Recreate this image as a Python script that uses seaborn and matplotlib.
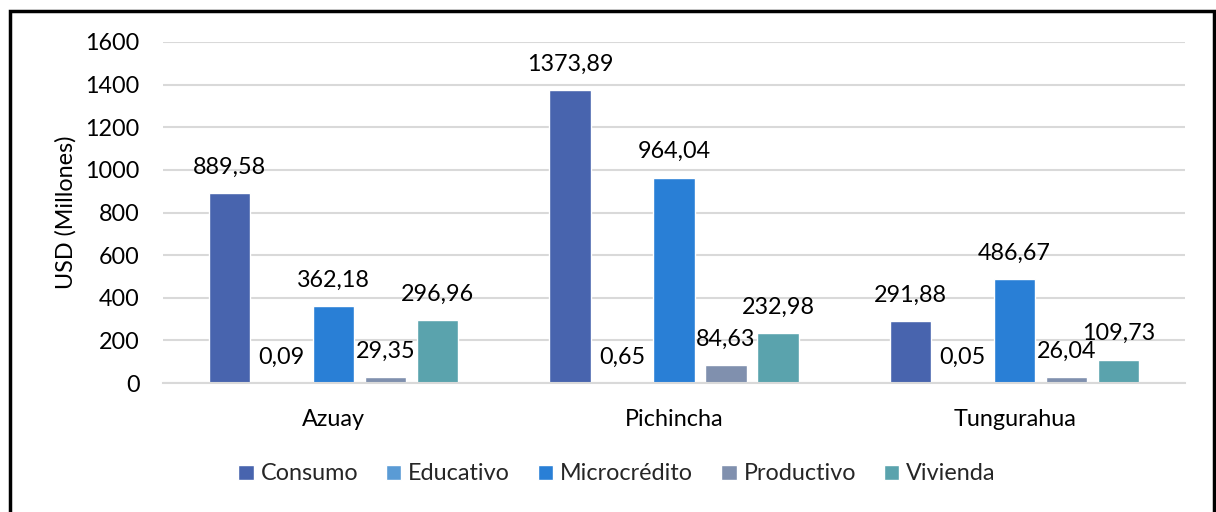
import matplotlib
matplotlib.use("Agg")
import matplotlib.pyplot as plt
from matplotlib.patches import Rectangle
import seaborn as sns
import pandas as pd

# Loan portfolio by province and credit type (USD millions)
provincias = ["Azuay", "Pichincha", "Tungurahua"]
tipos = ["Consumo", "Educativo", "Microcrédito", "Productivo", "Vivienda"]
consumo = [889.58, 1373.89, 291.88]
educativo = [0.09, 0.65, 0.05]
microcredito = [362.18, 964.04, 486.67]
productivo = [29.35, 84.63, 26.04]
vivienda = [296.96, 232.98, 109.73]
y_ticks = [0, 200, 400, 600, 800, 1000, 1200, 1400, 1600]

colores = ["#4864AE", "#5A9BD5", "#297FD6", "#8090AE", "#5AA3AD"]

series = [consumo, educativo, microcredito, productivo, vivienda]
rows = []
for tipo, valores in zip(tipos, series):
    for prov, v in zip(provincias, valores):
        rows.append({"Provincia": prov, "Tipo": tipo, "Valor": v})
df = pd.DataFrame(rows)

sns.set_theme(style="white")
plt.rcParams["font.family"] = ["Lato", "DejaVu Sans"]
FS = 16.8

fig = plt.figure(figsize=(12.16, 5.12), dpi=100)
ax = fig.add_axes([163 / 1216, 1 - 383 / 512, 1022 / 1216, 341 / 512])

sns.barplot(data=df, x="Provincia", y="Valor", hue="Tipo",
            order=provincias, hue_order=tipos, palette=colores,
            width=0.763, gap=0.21, saturation=1, ax=ax, legend=True,
            errorbar=None)

ax.set_ylim(0, 1600)
ax.set_xlim(-0.5, 2.5)
ax.set_yticks(y_ticks)
ax.set_yticklabels([str(t) for t in y_ticks])
ax.yaxis.grid(True, color="#D9D9D9", linewidth=1.5)
ax.set_axisbelow(True)
for s in ["top", "right", "left"]:
    ax.spines[s].set_visible(False)
ax.spines["bottom"].set_color("#D9D9D9")
ax.spines["bottom"].set_linewidth(1.5)
ax.tick_params(axis="y", length=0, pad=17, labelsize=FS, colors="#000000")
ax.tick_params(axis="x", length=0, pad=19, labelsize=FS, colors="#000000")
ax.set_xlabel("")
ax.set_ylabel("USD (Millones)", fontsize=FS, labelpad=6, color="#000000")

def fmt(v):
    return f"{v:.2f}".replace(".", ",")

for cont in ax.containers:
    ax.bar_label(cont, labels=[fmt(b.get_height()) for b in cont],
                 padding=11, fontsize=FS, color="#000000")

handles, labels = ax.get_legend_handles_labels()
ax.legend_.remove()
fig.legend(handles, labels, loc="center", bbox_to_anchor=(617 / 1216, 1 - 474 / 512),
           ncol=5, frameon=False, fontsize=FS, handlelength=0.65, handleheight=0.65,
           handletextpad=0.3, columnspacing=1.2)

# Frame around the figure
fig.add_artist(Rectangle((9.5 / 1216, -0.05), (1213.5 - 9.5) / 1216, 1.05 - 11 / 512,
                         transform=fig.transFigure, fill=False,
                         edgecolor="black", linewidth=2.5))

fig.savefig("out.png", dpi=100, facecolor="white")
